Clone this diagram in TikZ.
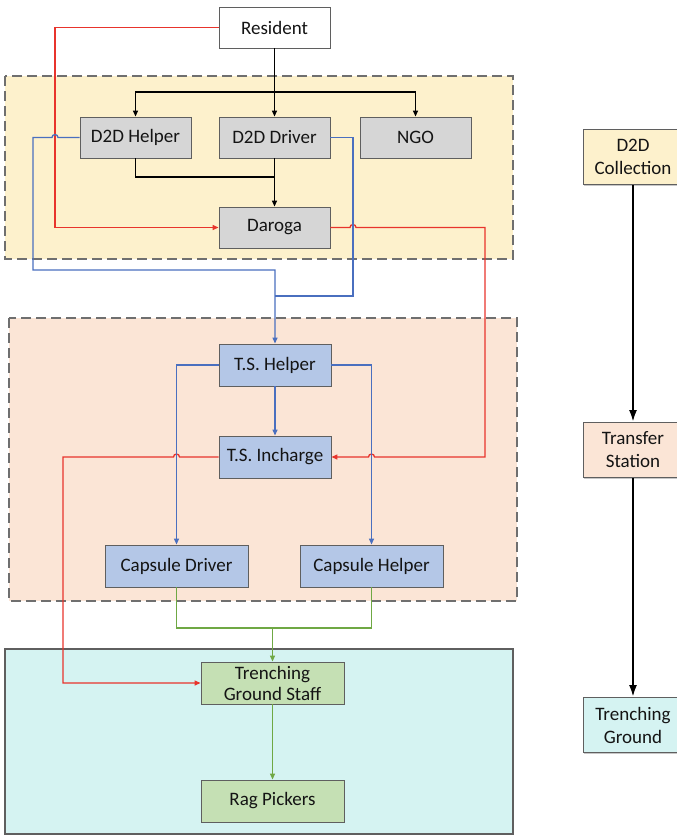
\documentclass[tikz,border=0pt]{standalone}
\usepackage{fontspec}
\setmainfont{Carlito}
\usetikzlibrary{arrows.meta,calc,shadows}
\definecolor{regY}{HTML}{FDF1CC}
\definecolor{regO}{HTML}{FBE5D6}
\definecolor{regC}{HTML}{D5F3F2}
\definecolor{boxG}{HTML}{D6D6D6}
\definecolor{boxB}{HTML}{B4C7E7}
\definecolor{boxV}{HTML}{C5E0B4}
\definecolor{lnR}{HTML}{E8342C}
\definecolor{lnB}{HTML}{4A6FBF}
\definecolor{lnG}{HTML}{6FA844}
\definecolor{brd}{HTML}{5F5F5F}
\definecolor{txt}{HTML}{141414}
\tikzset{
  box/.style={draw=brd, line width=0.9pt, inner sep=0pt, text=txt, align=center,
     font=\fontsize{19}{21}\selectfont,
     drop shadow={shadow xshift=1.2pt, shadow yshift=-1.2pt, fill=black, opacity=0.22}},
  wbox/.style={box, fill=white, minimum width=111pt, minimum height=41pt},
  gbox/.style={box, fill=boxG, minimum width=111pt, minimum height=41pt},
  bbox/.style={box, fill=boxB, minimum width=112pt, minimum height=42pt},
  cbox/.style={box, fill=boxB, minimum width=143pt, minimum height=42pt},
  vbox/.style={box, fill=boxV, minimum width=143pt, minimum height=42pt},
  sidebox/.style={box, minimum width=100pt, minimum height=55pt, font=\fontsize{19}{23}\selectfont},
  region/.style={draw=brd!90, line width=1.4pt, dash pattern=on 10pt off 5pt},
  arr/.style={-{Triangle[length=6pt,width=5pt]}},
  blk/.style={draw=black, line width=1.3pt},
  redl/.style={draw=lnR, line width=1.3pt},
  bluel/.style={draw=lnB, line width=1.3pt},
  greenl/.style={draw=lnG, line width=1.3pt},
  bigarr/.style={draw=black, line width=2.2pt, -{Latex[length=12pt,width=8pt]}}
}
\begin{document}
\begin{tikzpicture}[x=1pt,y=-1pt]
\useasboundingbox (0,0) rectangle (677,836);
% regions
\fill[regY] (5,76) rectangle (513,259);
\draw[region] (5,76) rectangle (513,259);
\fill[regO] (9,318) rectangle (517,601);
\draw[region] (9,318) rectangle (517,601);
\draw[fill=regC, draw=brd, line width=1.2pt] (5,649) rectangle (513,834);

% nodes
\node[wbox] (res) at (274.5,27.5) {Resident};
\node[gbox] (dhe) at (135.5,137.5) {D2D Helper};
\node[gbox] (ddr) at (274.5,137.5) {D2D Driver};
\node[gbox] (ngo) at (415.5,137.5) {NGO};
\node[gbox] (dar) at (274.5,227.5) {Daroga};
\node[bbox] (tsh) at (275,365) {T.S. Helper};
\node[bbox] (tsi) at (275,457) {T.S. Incharge};
\node[cbox] (cdr) at (176.5,566) {Capsule Driver};
\node[cbox] (chl) at (371.5,566) {Capsule Helper};
\node[vbox] (tgs) at (272.5,683) {Trenching\\Ground Staff};
\node[vbox] (rag) at (272.5,801) {Rag Pickers};

\node[sidebox, fill=regY] (sd1) at (633,157) {D2D\\Collection};
\node[sidebox, fill=regO] (sd2) at (633,450) {Transfer\\Station};
\node[sidebox, fill=regC] (sd3) at (633,725) {Trenching\\Ground};

% routing coordinates
\coordinate (bus1) at (274.5,92);
\coordinate (bus2) at (274.5,177);
\coordinate (bus3) at (275,270);
\coordinate (bus4) at (275,296);
\coordinate (bus5) at (272.5,628);
\coordinate (rL) at (55,0);
\coordinate (rR) at (485,0);
\coordinate (rL2) at (63,0);
\coordinate (bL) at (33,0);
\coordinate (bR) at (353,0);

% black connectors
\draw[blk,arr] (res.south) -- (ddr.north);
\draw[blk,arr] (bus1) -| (dhe.north);
\draw[blk,arr] (bus1) -| (ngo.north);
\draw[blk] (dhe.south) |- (bus2);
\draw[blk,arr] (ddr.south) -- (dar.north);

% red connectors
\draw[redl,arr] (res.west) -| (dar.west -| rL) -- (dar.west);
\draw[redl,arr] (dar.east) -- ($(dar.east -| bR)+(-3,0)$)
   arc[start angle=180,end angle=360,radius=3]
   -- (dar.east -| rR) -- (tsi.east -| rR)
   -- ($(tsi.east -| chl.north)+(3,0)$)
   arc[start angle=0,end angle=-180,radius=3] -- (tsi.east);
\draw[redl,arr] (tsi.west) -- ($(tsi.west -| cdr.north)+(3,0)$)
   arc[start angle=0,end angle=-180,radius=3]
   -- (tsi.west -| rL2) |- (tgs.west);

% blue connectors
\draw[bluel,arr] (dhe.west) -- ($(dhe.west -| rL)+(3,0)$)
   arc[start angle=0,end angle=-180,radius=3]
   -- (dhe.west -| bL) -- (bL |- bus3) -- (bus3) -- (tsh.north);
\draw[bluel] (ddr.east) -| (bR |- bus4) -- (bus4);
\draw[bluel,arr] (tsh.south) -- (tsi.north);
\draw[bluel,arr] (tsh.west) -| (cdr.north);
\draw[bluel,arr] (tsh.east) -| (chl.north);

% green connectors
\draw[greenl] (cdr.south) |- (bus5);
\draw[greenl] (chl.south) |- (bus5);
\draw[greenl,arr] (bus5) -- (tgs.north);
\draw[greenl,arr] (tgs.south) -- (rag.north);

% side column
\draw[bigarr] (sd1.south) -- (sd2.north);
\draw[bigarr] (sd2.south) -- (sd3.north);
\end{tikzpicture}
\end{document}
